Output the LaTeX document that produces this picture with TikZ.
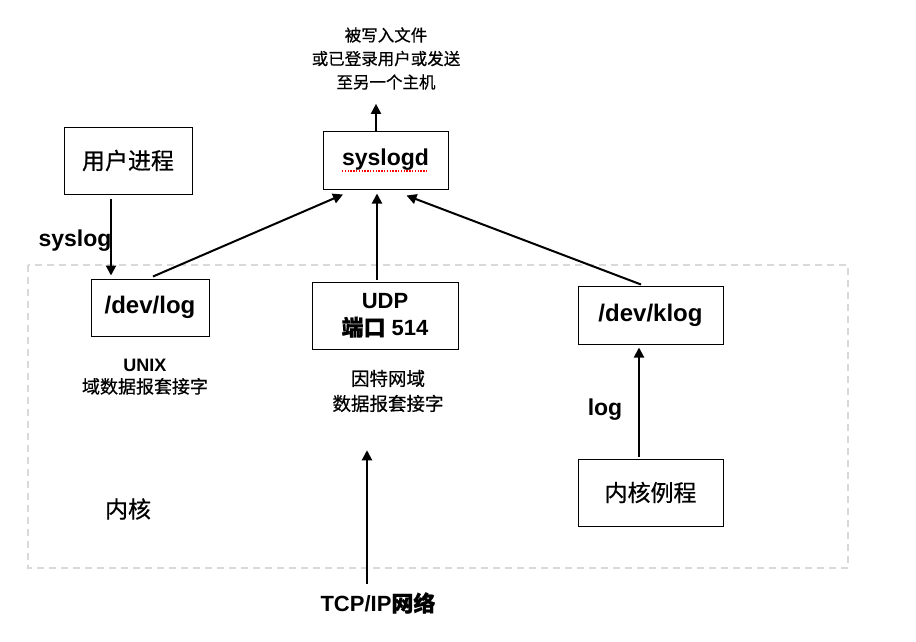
\documentclass[tikz,border=0pt]{standalone}
\usepackage{fontspec}
\setmainfont{Liberation Sans}
\newfontfamily\cjk[FakeBold=0.6]{Noto Sans CJK SC}
\usetikzlibrary{arrows.meta}
\begin{document}
\begin{tikzpicture}[x=1pt,y=-1pt,
  box/.style={draw=black,line width=1pt,inner sep=0pt,align=center},
  arr/.style={line width=2pt,-{Triangle[width=10pt,length=10pt]}},
  lbl/.style={inner sep=0pt,align=center}]
\useasboundingbox (0,0) rectangle (916,641);
% kernel region
\draw[draw=black!15,line width=2pt,dash pattern=on 7pt off 5pt] (28,265) rectangle (848,568);
% boxes
\node[box,minimum width=128pt,minimum height=67pt,font=\cjk\fontsize{23}{26}\selectfont] (user) at (128,160.5) {用户进程};
\node[box,minimum width=118pt,minimum height=57pt,font=\bfseries\fontsize{24}{28}\selectfont] (devlog) at (150,307.5) {/dev/log};
\node[box,minimum width=125pt,minimum height=58pt,font=\bfseries\fontsize{23}{27}\selectfont] (syslogd) at (385.5,160) {syslogd};
\node[box,minimum width=146pt,minimum height=67pt,font=\bfseries\fontsize{22}{27}\selectfont] (udp) at (385,315.5) {UDP\\{\cjk 端口} 514};
\node[box,minimum width=145pt,minimum height=58pt,font=\bfseries\fontsize{24}{28}\selectfont] (klog) at (650.5,315) {/dev/klog};
\node[box,minimum width=145pt,minimum height=67pt,font=\cjk\fontsize{23}{26}\selectfont] (kr) at (650.5,492.5) {内核例程};
% texts
\node[lbl,font=\cjk\fontsize{16.5}{23.5}\selectfont] (dest) at (386,58.5) {被写入文件\\或已登录用户或发送\\至另一个主机};
\node[lbl,font=\bfseries\fontsize{23}{27}\selectfont] (syslogl) at (75,241) {syslog};
\node[lbl,font=\bfseries\fontsize{23}{27}\selectfont] (logl) at (605,410) {log};
\node[lbl,font=\fontsize{18}{21.5}\selectfont] (unix) at (145,377) {\textbf{UNIX}\\{\cjk 域数据报套接字}};
\node[lbl,font=\cjk\fontsize{18.5}{25}\selectfont] (inet) at (388,391) {因特网域\\数据报套接字};
\node[lbl,font=\cjk\fontsize{23}{26}\selectfont] (kernel) at (128,509) {内核};
\node[lbl,font=\bfseries\fontsize{22}{26}\selectfont] (tcp) at (378,603) {TCP/IP{\cjk\bfseries 网络}};
% spell-check underline
\draw[red,line width=1.4pt,dash pattern=on 1.4pt off 1.4pt] ([xshift=-43.5pt,yshift=-11pt]syslogd.center) -- ([xshift=42.5pt,yshift=-11pt]syslogd.center);
% connectors
\draw[arr] ([xshift=-17pt,yshift=-4pt]user.south) -- ([xshift=-39pt,yshift=3pt]devlog.north);
\draw[arr] ([xshift=3pt,yshift=2pt]devlog.north) -- ([xshift=-42.5pt,yshift=-5pt]syslogd.south);
\draw[arr] ([xshift=-8pt,yshift=2pt]udp.north) -- ([xshift=-8.5pt,yshift=-4pt]syslogd.south);
\draw[arr] ([xshift=-9.5pt,yshift=1pt]klog.north) -- ([xshift=21pt,yshift=-6pt]syslogd.south);
\draw[arr] ([xshift=-11.5pt,yshift=2pt]kr.north) -- ([xshift=-11.5pt,yshift=-3pt]klog.south);
\draw[arr] ([xshift=-9.5pt]syslogd.north) -- ([xshift=-10pt,yshift=-14pt]dest.south);
\draw[arr] ([xshift=-11pt,yshift=8pt]tcp.north) -- ([xshift=-21pt,yshift=-38pt]inet.south);
\end{tikzpicture}
\end{document}
